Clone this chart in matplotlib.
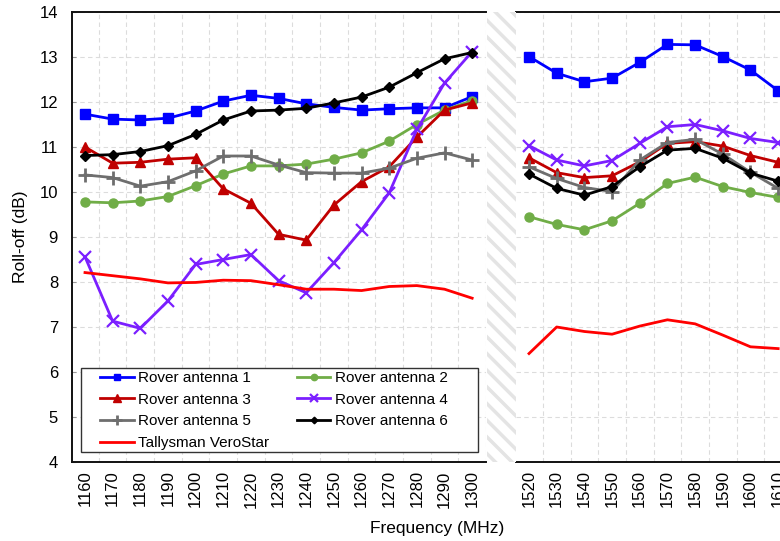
import matplotlib
matplotlib.use('Agg')
import matplotlib.pyplot as plt
from matplotlib.patches import Rectangle
import numpy as np

plt.rcParams['font.family'] = ['Liberation Sans', 'DejaVu Sans']
plt.rcParams['hatch.linewidth'] = 2.5
plt.rcParams['hatch.color'] = '#e4e4e4'

# L5/E5 band and L1 band frequencies
freq_low = [1160, 1170, 1180, 1190, 1200, 1210, 1220, 1230, 1240, 1250, 1260, 1270, 1280, 1290, 1300]
freq_high = [1520, 1530, 1540, 1550, 1560, 1570, 1580, 1590, 1600, 1610]

# roll-off (dB) per antenna, low band
ant1_low = [11.73, 11.62, 11.60, 11.64, 11.80, 12.02, 12.15, 12.08, 11.96, 11.88, 11.82, 11.85, 11.87, 11.87, 12.12]
ant2_low = [9.78, 9.76, 9.80, 9.90, 10.14, 10.40, 10.58, 10.58, 10.62, 10.73, 10.87, 11.13, 11.50, 11.82, 12.03]
ant3_low = [11.00, 10.64, 10.66, 10.73, 10.76, 10.07, 9.75, 9.06, 8.93, 9.71, 10.23, 10.56, 11.22, 11.82, 11.98]
ant4_low = [8.56, 7.13, 6.97, 7.58, 8.39, 8.50, 8.61, 8.03, 7.76, 8.43, 9.16, 9.98, 11.39, 12.42, 13.12]
ant5_low = [10.38, 10.32, 10.13, 10.23, 10.47, 10.80, 10.80, 10.60, 10.43, 10.42, 10.42, 10.53, 10.75, 10.87, 10.71]
ant6_low = [10.81, 10.83, 10.90, 11.03, 11.28, 11.60, 11.80, 11.82, 11.86, 11.98, 12.11, 12.33, 12.65, 12.96, 13.10]
vero_low = [8.21, 8.14, 8.07, 7.98, 7.99, 8.04, 8.03, 7.94, 7.84, 7.84, 7.81, 7.90, 7.92, 7.84, 7.64]

# roll-off (dB) per antenna, high band
ant1_high = [13.01, 12.64, 12.45, 12.53, 12.88, 13.28, 13.27, 13.01, 12.71, 12.25]
ant2_high = [9.45, 9.28, 9.16, 9.36, 9.75, 10.19, 10.33, 10.12, 9.99, 9.88]
ant3_high = [10.76, 10.43, 10.32, 10.36, 10.67, 11.08, 11.12, 11.02, 10.81, 10.66]
ant4_high = [11.03, 10.71, 10.58, 10.70, 11.08, 11.45, 11.50, 11.36, 11.19, 11.10]
ant5_high = [10.56, 10.30, 10.10, 10.01, 10.71, 11.10, 11.17, 10.84, 10.44, 10.08]
ant6_high = [10.40, 10.08, 9.93, 10.12, 10.56, 10.93, 10.97, 10.75, 10.42, 10.24]
vero_high = [6.41, 7.00, 6.90, 6.84, 7.02, 7.16, 7.07, 6.82, 6.56, 6.52]

series = [
    ('Rover antenna 1', ant1_low, ant1_high, dict(color='#0000ff', marker='s', markersize=7)),
    ('Rover antenna 2', ant2_low, ant2_high, dict(color='#70ad47', marker='o', markersize=6.5)),
    ('Rover antenna 3', ant3_low, ant3_high, dict(color='#c00000', marker='^', markersize=7.5)),
    ('Rover antenna 4', ant4_low, ant4_high, dict(color='#7b1fff', marker='x', markersize=8, markeredgewidth=1.6)),
    ('Rover antenna 5', ant5_low, ant5_high, dict(color='#6e6e6e', marker='+', markersize=10, markeredgewidth=2)),
    ('Rover antenna 6', ant6_low, ant6_high, dict(color='#000000', marker='D', markersize=4.8)),
    ('Tallysman VeroStar', vero_low, vero_high, dict(color='#ff0000')),
]

W, H = 780, 541
fig = plt.figure(figsize=(W / 100, H / 100), dpi=100)
bottom = (H - 462) / H
height = 450 / H
ax1 = fig.add_axes([72 / W, bottom, 414 / W, height])
ax2 = fig.add_axes([516 / W, bottom, 276 / W, height])

lines = {}
for name, lo, hi, style in series:
    l, = ax1.plot(freq_low, lo, linewidth=2, label=name, **style)
    ax2.plot(freq_high, hi, linewidth=2, **style)
    lines[name] = l

ax1.set_xlim(1155.3, 1304.3)
ax2.set_xlim(1515.3, 1614.7)

for ax, fr in ((ax1, freq_low), (ax2, freq_high)):
    ax.set_ylim(4, 14)
    ax.set_yticks(range(4, 15))
    ax.set_xticks(fr)
    ax.set_xticklabels([str(f) for f in fr], rotation=90, fontsize=12)
    ax.set_xticks([f + 5 for f in fr], minor=True)
    ax.tick_params(axis='x', which='both', length=0, pad=6)
    ax.tick_params(axis='y', direction='in', length=3, color='#999999', labelsize=12, pad=10)
    ax.grid(True, axis='y', which='major', linestyle=(0, (4, 3)), color='#dcdcdc', linewidth=0.8)
    ax.grid(True, axis='x', which='minor', linestyle=(0, (4, 3)), color='#dcdcdc', linewidth=0.8)
    ax.set_axisbelow(True)
    for s in ('top', 'bottom', 'left'):
        ax.spines[s].set_linewidth(1.4)
        ax.spines[s].set_color('#111111')
    ax.spines['right'].set_visible(False)

ax2.spines['left'].set_visible(False)
ax2.tick_params(axis='y', left=False, labelleft=False)

# hatched break between the two bands
fig.patches.append(Rectangle((487 / W, bottom), 29 / W, height, transform=fig.transFigure,
                             facecolor='white', edgecolor='#e4e4e4', hatch='\\\\', linewidth=0))

ax1.set_ylabel('Roll-off (dB)', fontsize=12.5, labelpad=8)
fig.text(437 / W, 1 - 528 / H, 'Frequency (MHz)', fontsize=12.5, ha='center', va='center')

# legend box drawn separately so it can be wider than its entries
ax1.add_patch(Rectangle((9 / 414, 10 / 450), 397 / 414, 84 / 450, transform=ax1.transAxes,
                        facecolor='white', edgecolor='#333333', linewidth=1.0, zorder=4))

order = ['Rover antenna 1', 'Rover antenna 3', 'Rover antenna 5', 'Tallysman VeroStar',
         'Rover antenna 2', 'Rover antenna 4', 'Rover antenna 6']
leg = ax1.legend([lines[n] for n in order], order, ncol=2, loc='upper left',
                 bbox_to_anchor=(28 / 414, 91 / 450), frameon=False,
                 fontsize=11, markerscale=0.7, handlelength=2.2, handletextpad=0.3,
                 labelspacing=0.5, borderpad=0, borderaxespad=0, columnspacing=1.8)
leg.set_zorder(5)

fig.savefig('out.png', dpi=100)
